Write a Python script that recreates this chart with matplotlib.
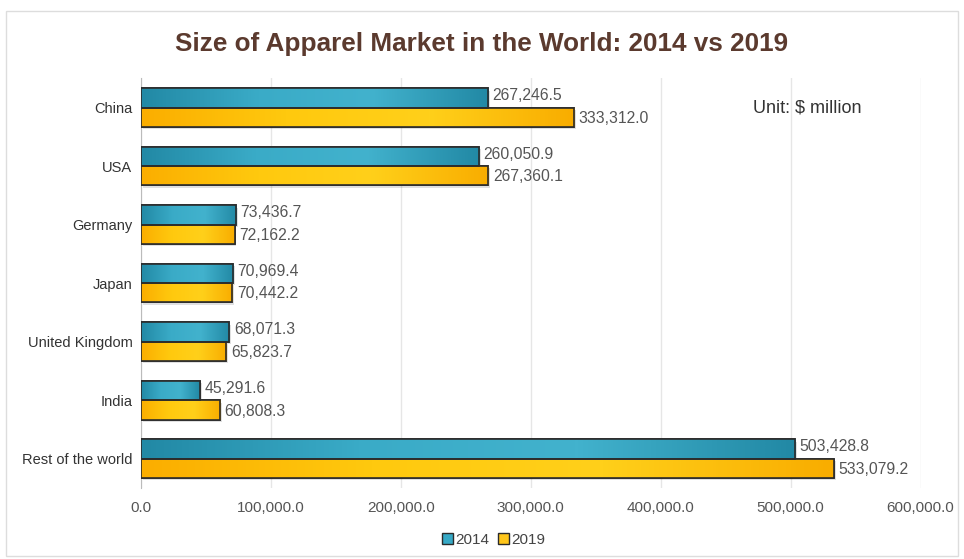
import matplotlib.pyplot as plt
import numpy as np
from matplotlib.patches import Rectangle
from matplotlib.colors import LinearSegmentedColormap

plt.rcParams['font.family'] = ['Liberation Sans', 'DejaVu Sans']

categories = ['China', 'USA', 'Germany', 'Japan', 'United Kingdom', 'India', 'Rest of the world']
values_2014 = [267246.5, 260050.9, 73436.7, 70969.4, 68071.3, 45291.6, 503428.8]
values_2019 = [333312.0, 267360.1, 72162.2, 70442.2, 65823.7, 60808.3, 533079.2]

teal_cmap = LinearSegmentedColormap.from_list('teal', ['#2289a5', '#3aabc7', '#42b2cd', '#2289a5'])
gold_cmap = LinearSegmentedColormap.from_list('gold', ['#fbae00', '#ffc90e', '#ffd01a', '#f9ad00'])

fig = plt.figure(figsize=(9.64, 5.59), dpi=100)
ax = fig.add_axes([0.146, 0.127, 0.809, 0.733])

# light frame around the whole chart
fig.patches.append(Rectangle((0.006, 0.006), 0.988, 0.975, transform=fig.transFigure,
                             fill=False, edgecolor='#dddddd', linewidth=1))

y = np.arange(len(categories))
h = 0.33
grad = np.linspace(0, 1, 128).reshape(1, -1)


def gradient_bars(ys, vals, cmap, solid):
    bars = ax.barh(ys, vals, height=h, color=solid, edgecolor='#2b2b2b', linewidth=1.2, zorder=3)
    for bar in bars:
        x0, y0 = bar.get_x(), bar.get_y()
        w, hh = bar.get_width(), bar.get_height()
        # soft shadow below the bar
        ax.add_patch(Rectangle((x0 + 1500, y0 + 0.04), w, hh, facecolor='#000000', alpha=0.12,
                               edgecolor='none', zorder=2.5))
        im = ax.imshow(grad, cmap=cmap, aspect='auto', extent=(x0, x0 + w, y0 + hh, y0),
                       zorder=3.5, interpolation='bilinear')
        im.set_clip_path(bar)
        ax.add_patch(Rectangle((x0, y0), w, hh, fill=False, edgecolor='#2b2b2b',
                               linewidth=1.2, zorder=4))
    return bars


gradient_bars(y - h / 2, values_2014, teal_cmap, '#2a9bb8')
gradient_bars(y + h / 2, values_2019, gold_cmap, '#ffc107')

for yy, v in zip(y - h / 2, values_2014):
    ax.text(v + 3500, yy - 0.04, f'{v:,.1f}', va='center', ha='left', fontsize=11.3, color='#555555')
for yy, v in zip(y + h / 2, values_2019):
    ax.text(v + 3500, yy + 0.02, f'{v:,.1f}', va='center', ha='left', fontsize=11.3, color='#555555')

ax.set_xlim(0, 600000)
ax.set_ylim(len(categories) - 0.5, -0.5)
ax.set_yticks(y)
ax.set_yticklabels(categories, fontsize=10.5, color='#333333')
ax.set_xticks(np.arange(0, 600001, 100000))
ax.set_xticklabels([f'{t:,.1f}' for t in np.arange(0, 600001, 100000)], fontsize=11, color='#555555')
ax.tick_params(length=0, pad=6)
ax.tick_params(axis='x', pad=9)
ax.grid(True, axis='x', color='#e6e6e6', linewidth=1, zorder=0)
for s in ['top', 'right', 'bottom']:
    ax.spines[s].set_visible(False)
ax.spines['left'].set_color('#bbbbbb')
ax.set_axisbelow(True)

ax.text(0.785, 0.927, 'Unit: \\$ million', transform=ax.transAxes, fontsize=13, color='#333333',
        va='center')

fig.text(0.5, 0.921, 'Size of Apparel Market in the World: 2014 vs 2019', ha='center', va='center',
         fontsize=18.8, fontweight='bold', color='#5b3a2e')

handles = [Rectangle((0, 0), 1, 1, facecolor='#36a9c6', edgecolor='#2b2b2b'),
           Rectangle((0, 0), 1, 1, facecolor='#ffc61a', edgecolor='#2b2b2b')]
fig.legend(handles, ['2014', '2019'], loc='center', bbox_to_anchor=(0.512, 0.034), ncol=2,
           frameon=False, fontsize=11, handlelength=0.7, handleheight=0.7,
           handletextpad=0.15, columnspacing=0.6, labelcolor='#444444')

fig.savefig('out.png', dpi=100)
